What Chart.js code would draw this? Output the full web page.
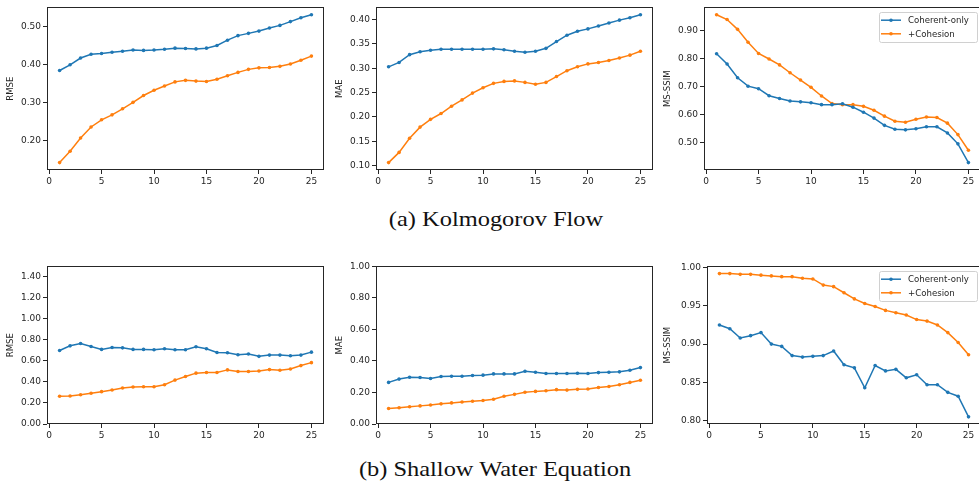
<!DOCTYPE html>
<html>
<head>
<meta charset="utf-8">
<script src="https://cdn.jsdelivr.net/npm/chart.js@4.4.0/dist/chart.umd.min.js"></script>
<style>
html,body{margin:0;padding:0;background:#fff;width:979px;height:494px;overflow:hidden;position:relative;}
canvas{position:absolute;}
.cap{position:absolute;font-family:"Liberation Serif",serif;font-size:22px;color:#111;white-space:nowrap;transform:translate(-50%,-50%) scaleX(1.11);}
</style>
</head>
<body>
<div class="cap" style="left:496px;top:219px;">(a) Kolmogorov Flow</div>
<div class="cap" style="left:495px;top:469px;">(b) Shallow Water Equation</div>
<script>
const steps = [1,2,3,4,5,6,7,8,9,10,11,12,13,14,15,16,17,18,19,20,21,22,23,24,25];
const seriesNames = ['Coherent-only', '+Cohesion'];
const xTicks = [0,5,10,15,20,25];

// (a) Kolmogorov Flow
const kfRmseCoherent = [0.385,0.400,0.418,0.428,0.430,0.433,0.436,0.439,0.438,0.439,0.441,0.444,0.443,0.442,0.444,0.451,0.465,0.477,0.483,0.489,0.497,0.504,0.514,0.524,0.532];
const kfRmseCohesion = [0.142,0.172,0.207,0.236,0.255,0.268,0.284,0.301,0.319,0.333,0.344,0.355,0.359,0.357,0.356,0.362,0.371,0.380,0.388,0.392,0.393,0.396,0.402,0.412,0.423];
const kfMaeCoherent = [0.303,0.312,0.328,0.334,0.337,0.339,0.339,0.339,0.339,0.339,0.340,0.338,0.335,0.333,0.335,0.341,0.355,0.368,0.376,0.381,0.387,0.393,0.399,0.404,0.410];
const kfMaeCohesion = [0.106,0.127,0.156,0.179,0.195,0.207,0.222,0.235,0.249,0.260,0.269,0.273,0.274,0.271,0.267,0.271,0.283,0.295,0.303,0.309,0.312,0.316,0.321,0.327,0.335];
const kfSsimCoherent = [0.817,0.780,0.731,0.701,0.692,0.667,0.657,0.648,0.645,0.642,0.635,0.635,0.638,0.626,0.608,0.587,0.561,0.547,0.545,0.549,0.556,0.556,0.534,0.495,0.428];
const kfSsimCohesion = [0.956,0.939,0.904,0.858,0.818,0.798,0.777,0.749,0.723,0.697,0.666,0.639,0.635,0.635,0.629,0.615,0.594,0.576,0.572,0.583,0.591,0.589,0.569,0.528,0.472];

// (b) Shallow Water Equation
const swRmseCoherent = [0.700,0.744,0.766,0.738,0.710,0.728,0.725,0.710,0.710,0.706,0.716,0.706,0.706,0.735,0.716,0.681,0.678,0.659,0.666,0.644,0.656,0.656,0.650,0.656,0.684];
const swRmseCohesion = [0.264,0.267,0.279,0.292,0.308,0.323,0.342,0.352,0.355,0.355,0.374,0.418,0.452,0.484,0.490,0.490,0.515,0.499,0.499,0.505,0.518,0.512,0.524,0.556,0.584];
const swMaeCoherent = [0.264,0.285,0.297,0.295,0.289,0.301,0.303,0.303,0.308,0.310,0.318,0.318,0.318,0.335,0.328,0.320,0.320,0.320,0.322,0.320,0.326,0.328,0.331,0.341,0.358];
const swMaeCohesion = [0.098,0.103,0.109,0.115,0.121,0.128,0.134,0.140,0.144,0.149,0.157,0.176,0.188,0.201,0.207,0.211,0.218,0.215,0.220,0.222,0.232,0.238,0.249,0.264,0.278];
const swSsimCoherent = [0.925,0.920,0.908,0.911,0.915,0.900,0.897,0.885,0.883,0.884,0.885,0.891,0.873,0.869,0.843,0.872,0.865,0.867,0.856,0.860,0.847,0.847,0.837,0.832,0.805];
const swSsimCohesion = [0.992,0.992,0.991,0.991,0.990,0.989,0.988,0.988,0.986,0.985,0.977,0.975,0.967,0.959,0.953,0.949,0.944,0.941,0.938,0.932,0.930,0.925,0.915,0.902,0.886];

// y tick labels per panel
const kfRmseTicks = [0.20,0.30,0.40,0.50];
const kfMaeTicks = [0.10,0.15,0.20,0.25,0.30,0.35,0.40];
const kfSsimTicks = [0.50,0.60,0.70,0.80,0.90];
const swRmseTicks = [0.00,0.20,0.40,0.60,0.80,1.00,1.20,1.40];
const swMaeTicks = [0.00,0.20,0.40,0.60,0.80,1.00];
const swSsimTicks = [0.80,0.85,0.90,0.95,1.00];

const BLUE = '#1f77b4', ORANGE = '#ff7f0e';
const INK = '#262626';
const YW = 47, XH = 24, PT = 5, PR = 2;

const panels = [
  {a:kfRmseCoherent, b:kfRmseCohesion, label:'RMSE', ticks:kfRmseTicks, min:0.1225, max:0.5515, L:47, T:5, W:279, H:165, tp:6},
  {a:kfMaeCoherent, b:kfMaeCohesion, label:'MAE', ticks:kfMaeTicks, min:0.0908, max:0.4252, L:376, T:5, W:279, H:165, tp:6},
  {a:kfSsimCoherent, b:kfSsimCohesion, label:'MS-SSIM', ticks:kfSsimTicks, min:0.4016, max:0.9824, L:704, T:5, W:279, H:165, tp:6.5, legend:true},
  {a:swRmseCoherent, b:swRmseCohesion, label:'RMSE', ticks:swRmseTicks, min:0, max:1.5, L:47, T:264, W:279, H:160, tp:6},
  {a:swMaeCoherent, b:swMaeCohesion, label:'MAE', ticks:swMaeTicks, min:0, max:1.0, L:376, T:264, W:279, H:160, tp:6},
  {a:swSsimCoherent, b:swSsimCohesion, label:'MS-SSIM', ticks:swSsimTicks, min:0.7957, max:1.0014, L:707, T:264, W:276, H:160, tp:3, legend:true}
];

const boxPlugin = {
  id:'box',
  afterDraw(chart){
    const c = chart.ctx, a = chart.chartArea;
    c.save();
    c.strokeStyle = INK; c.lineWidth = 1;
    c.strokeRect(Math.round(a.left)+0.5, Math.round(a.top)+0.5, Math.round(a.right-a.left)-1, Math.round(a.bottom-a.top)-1);
    c.restore();
  }
};

const legendPlugin = {
  id:'mplLegend',
  afterDraw(chart, args, opts){
    if(!opts || !opts.show) return;
    const c = chart.ctx, a = chart.chartArea;
    const bx = a.right - 102, by = a.top + 4.6, bw = 98, bh = 30;
    c.save();
    c.fillStyle = 'rgba(255,255,255,0.85)';
    c.strokeStyle = '#d0d0d0'; c.lineWidth = 1;
    c.beginPath();
    if (c.roundRect) c.roundRect(bx+0.5, by+0.5, bw, bh, 2); else c.rect(bx+0.5, by+0.5, bw, bh);
    c.fill(); c.stroke();
    chart.data.datasets.forEach((ds, i) => {
      const y = by + 8.2 + i*13.6;
      c.strokeStyle = ds.borderColor; c.lineWidth = 1.5;
      c.beginPath(); c.moveTo(bx+2, y); c.lineTo(bx+22, y); c.stroke();
      c.fillStyle = ds.borderColor;
      c.beginPath(); c.arc(bx+12, y, 1.8, 0, Math.PI*2); c.fill();
      c.fillStyle = INK;
      c.font = '8.6px "DejaVu Sans"';
      c.textBaseline = 'middle'; c.textAlign = 'left';
      c.fillText(ds.label, bx+29, y+0.5);
    });
    c.restore();
  }
};

panels.forEach((p) => {
  const cv = document.createElement('canvas');
  const w = p.W + YW + PR, h = p.H + PT + XH;
  cv.width = w; cv.height = h;
  cv.style.width = w + 'px'; cv.style.height = h + 'px';
  cv.style.left = (p.L - YW) + 'px';
  cv.style.top = (p.T - PT) + 'px';
  document.body.appendChild(cv);
  const mk = (vals, color, name) => ({
    label: name,
    data: steps.map((s, i) => ({x: s, y: vals[i]})),
    borderColor: color, backgroundColor: color,
    borderWidth: 1.5, pointRadius: 1.8, pointBorderWidth: 0,
    pointBackgroundColor: color, tension: 0, fill: false
  });
  new Chart(cv, {
    type: 'line',
    data: { datasets: [ mk(p.a, BLUE, seriesNames[0]), mk(p.b, ORANGE, seriesNames[1]) ] },
    options: {
      responsive: false, animation: false, devicePixelRatio: 1,
      layout: { padding: { left: 0, top: PT, right: PR, bottom: 0 } },
      plugins: { legend: { display: false }, tooltip: { enabled: false }, mplLegend: { show: !!p.legend } },
      scales: {
        x: {
          type: 'linear', min: -0.2, max: 26.2,
          afterBuildTicks: s => { s.ticks = xTicks.map(v => ({value: v})); },
          afterFit: s => { s.height = XH; },
          grid: { drawOnChartArea: false, drawTicks: true, tickLength: 4, color: INK, lineWidth: 1 },
          border: { display: false },
          ticks: { color: INK, font: { family: 'DejaVu Sans', size: 9 }, padding: 2, maxRotation: 0, autoSkip: false, callback: v => String(v) }
        },
        y: {
          type: 'linear', min: p.min, max: p.max,
          afterBuildTicks: s => { s.ticks = p.ticks.map(v => ({value: v})); },
          afterFit: s => { s.width = YW; },
          grid: { drawOnChartArea: false, drawTicks: true, tickLength: 4, color: INK, lineWidth: 1 },
          border: { display: false },
          title: { display: true, text: p.label, color: INK, font: { family: 'DejaVu Sans', size: 8.6 }, padding: { top: p.tp - 0.5, bottom: 0 } },
          ticks: { color: INK, font: { family: 'DejaVu Sans', size: 9 }, padding: 2, autoSkip: false, callback: v => Number(v).toFixed(2) }
        }
      }
    },
    plugins: [boxPlugin, legendPlugin]
  });
});
</script>
</body>
</html>
